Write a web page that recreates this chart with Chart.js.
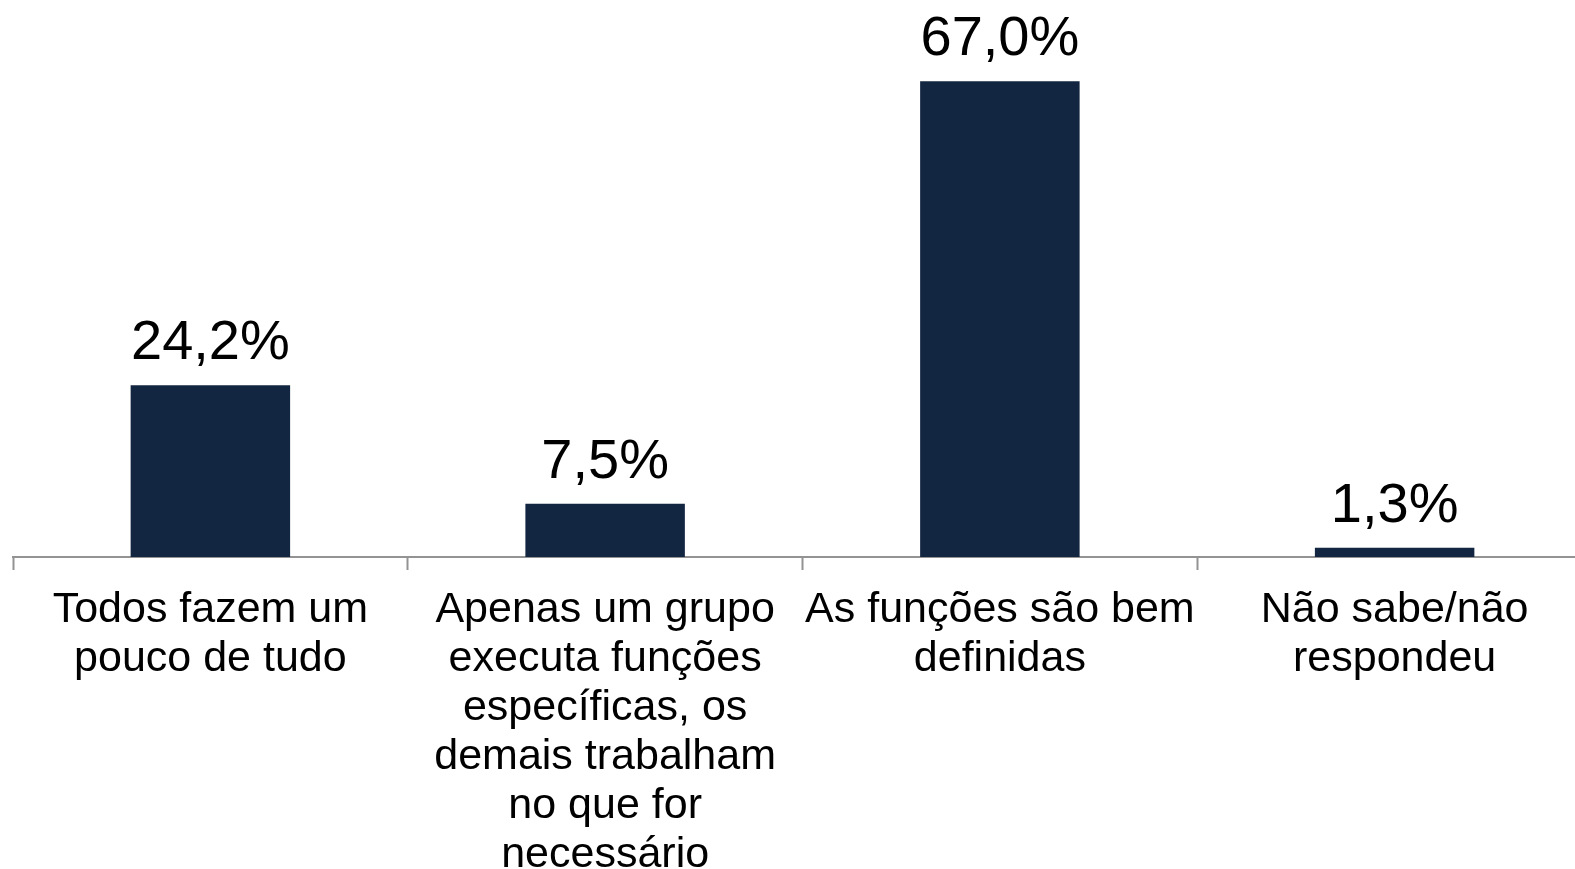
<!DOCTYPE html>
<html>
<head>
<meta charset="utf-8">
<script src="https://cdn.jsdelivr.net/npm/chart.js@4/dist/chart.umd.min.js"></script>
<style>
  html, body { margin: 0; padding: 0; background: #fff; overflow: hidden; }
  #wrap { width: 1575px; height: 869px; overflow: hidden; }
</style>
</head>
<body>
<div id="wrap">
  <canvas id="funcoesChart" width="1592" height="880"></canvas>
</div>
<script>
// Categories (one array per wrapped label)
const categories = [
  ['Todos fazem um', 'pouco de tudo'],
  ['Apenas um grupo', 'executa funções', 'específicas, os', 'demais trabalham', 'no que for', 'necessário'],
  ['As funções são bem', 'definidas'],
  ['Não sabe/não', 'respondeu']
];
// Share of answers, in percent
const percentages = [24.2, 7.5, 67.0, 1.3];

const barColor = '#132641';
const axisColor = '#939393';
const fontFamily = '"Liberation Sans", Arial, sans-serif';

// Writes the value above each bar, Brazilian decimal comma
const valueLabels = {
  id: 'valueLabels',
  afterDatasetsDraw(chart) {
    const ctx = chart.ctx;
    const meta = chart.getDatasetMeta(0);
    ctx.save();
    ctx.fillStyle = '#000';
    ctx.font = '56px ' + fontFamily;
    ctx.textAlign = 'center';
    ctx.textBaseline = 'alphabetic';
    meta.data.forEach((bar, i) => {
      const text = percentages[i].toFixed(1).replace('.', ',') + '%';
      ctx.fillText(text, bar.x, bar.y - 26);
    });
    ctx.restore();
  }
};

const ctx = document.getElementById('funcoesChart').getContext('2d');
new Chart(ctx, {
  type: 'bar',
  data: {
    labels: categories,
    datasets: [{
      data: percentages,
      backgroundColor: barColor,
      borderWidth: 0,
      categoryPercentage: 1,
      barPercentage: 0.404
    }]
  },
  options: {
    responsive: false,
    devicePixelRatio: 1,
    animation: false,
    layout: { padding: { left: 13, right: 0, top: 60, bottom: 0 } },
    plugins: {
      legend: { display: false },
      tooltip: { enabled: false }
    },
    scales: {
      x: {
        grid: {
          display: true,
          drawOnChartArea: false,
          drawTicks: true,
          tickLength: 13,
          tickWidth: 2,
          tickColor: axisColor,
          offset: true
        },
        border: { display: true, color: axisColor, width: 2 },
        ticks: {
          color: '#000',
          padding: 16,
          maxRotation: 0,
          autoSkip: false,
          font: { family: fontFamily, size: 43, lineHeight: 1.14 }
        },
        afterFit(scale) { scale.height = 323; }
      },
      y: {
        display: false,
        min: 0,
        max: 70
      }
    }
  },
  plugins: [valueLabels]
});
</script>
</body>
</html>
